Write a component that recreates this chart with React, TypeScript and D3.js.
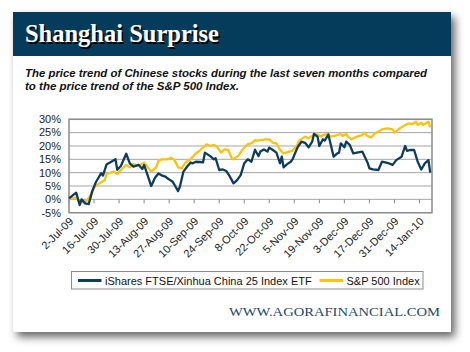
import * as d3 from "d3";

// trading day offsets from 2-Jul-09 and % change
const startDate = new Date(2009, 6, 2);
const endDate = new Date(2010, 0, 21);

const chinaDays = [0, 4, 6, 7, 9, 11, 13, 15, 18, 19, 21, 26, 27, 29, 32, 34, 36, 39, 41, 42, 46, 48, 50, 52, 54, 55, 58, 61, 62, 64, 66, 68, 69, 71, 75, 76, 79, 81, 82, 84, 86, 88, 90, 92, 94, 96, 98, 100, 102, 104, 106, 107, 109, 111, 112, 114, 116, 117, 118, 119, 120, 122, 124, 125, 127, 128, 130, 132, 134, 136, 137, 139, 140, 142, 143, 145, 146, 148, 150, 151, 152, 154, 155, 157, 159, 161, 164, 167, 168, 170, 173, 175, 178, 181, 183, 186, 188, 189, 191, 193, 195, 197, 199, 201, 202];
const chinaValues = [0.4, 2.5, -2.1, 0, -1.5, -1.8, 3.0, 6.4, 9.8, 8.9, 13.1, 15, 11.1, 12.5, 17.1, 13.5, 12.3, 12.9, 11.4, 12.9, 5, 8, 9.7, 8.9, 8.5, 7.9, 6.6, 3.1, 4.7, 10.4, 12.2, 13.8, 13.5, 14.1, 13.9, 17.5, 16.2, 15, 15.4, 11, 11.2, 10.6, 8.5, 6, 7.2, 9.1, 13.5, 15, 14.1, 18.6, 16.2, 17.9, 18.7, 17.9, 19.4, 18.5, 17.5, 15.5, 13.5, 16, 12, 13.2, 14.1, 15, 18.2, 19.7, 21.6, 21.2, 19.5, 21.6, 24.5, 23.5, 20, 22.5, 22, 24.3, 21.6, 16, 17.2, 17.5, 21, 19.5, 21.6, 20.4, 17.2, 17.5, 17.9, 13.7, 11.6, 11.2, 11, 14.1, 13.7, 12.9, 14.7, 16, 20, 18.2, 18.5, 18.5, 14.1, 11.2, 13.5, 14.7, 10];

const spxDays = [0, 4, 6, 8, 10, 12, 14, 17, 20, 21, 25, 27, 29, 32, 34, 36, 39, 42, 46, 49, 50, 52, 55, 57, 59, 61, 63, 65, 68, 70, 71, 73, 75, 77, 79, 81, 83, 85, 87, 89, 91, 92, 95, 97, 100, 102, 104, 105, 107, 110, 112, 114, 116, 118, 120, 123, 125, 127, 129, 132, 134, 136, 138, 141, 142, 145, 146, 148, 152, 153, 155, 156, 158, 161, 164, 165, 167, 169, 171, 175, 178, 181, 182, 184, 187, 190, 192, 194, 195, 197, 198, 201, 202];
const spxValues = [0.4, 0.6, -1.3, -0.9, -0.5, 1.6, 4.5, 6, 7.2, 9.5, 10.4, 9.5, 11, 12.9, 12, 13.2, 12.6, 13.7, 10.4, 12.2, 14.5, 15, 15, 15.6, 14.7, 12, 11.6, 13.7, 15, 16.6, 17.2, 18.2, 19.5, 20.6, 20, 20.4, 19.5, 17.5, 18.7, 18.5, 15.4, 15, 16.6, 18.7, 20.7, 21, 22.2, 22, 22.2, 22.5, 22.5, 21.2, 21, 18.5, 17.2, 17.9, 18.2, 19.7, 22.2, 23.5, 22.9, 23.7, 24.7, 23.5, 24.1, 24.5, 23.5, 23.7, 24.5, 23.7, 24.5, 23.5, 22.5, 23.5, 24.1, 25, 23.7, 23.2, 24.7, 26.2, 26.6, 26.2, 25, 26.2, 27.5, 28.5, 28.2, 29.1, 27.9, 28.7, 27.9, 29.1, 27];

const yTicks = [-5, 0, 5, 10, 15, 20, 25, 30];
const seriesNames = ["iShares FTSE/Xinhua China 25 Index ETF", "S&P 500 Index"];
const seriesColors = ["#0d3d5c", "#ffc20e"];

const W = 470;
const H = 352;
const plot = { left: 69, right: 432, top: 119.3, bottom: 212.7 };

export default function App() {
  const x = d3.scaleTime().domain([startDate, endDate]).range([plot.left, plot.right]);
  const y = d3.scaleLinear().domain([-5, 30]).range([plot.bottom, plot.top]);
  const xTicks = d3.range(0, 15).map((i) => d3.timeDay.offset(startDate, 14 * i));
  const fmt = d3.timeFormat("%-d-%b-%y");

  const line = d3
    .line<[number, number]>()
    .x((d) => x(d3.timeDay.offset(startDate, d[0])))
    .y((d) => y(d[1]));

  const china = line(chinaDays.map((d, i) => [d, chinaValues[i]]));
  const spx = line(spxDays.map((d, i) => [d, spxValues[i]]));

  const sans = "'Liberation Sans', Arial, sans-serif";

  return (
    <svg
      width={W}
      height={H}
      style={{ position: "absolute", left: 0, top: 0, background: "#fff" }}
    >
      <defs>
        <filter id="shadow" x="-10%" y="-10%" width="125%" height="125%">
          <feDropShadow dx="4" dy="5" stdDeviation="4" floodColor="#000" floodOpacity="0.6" />
        </filter>
      </defs>

      {/* card */}
      <rect x={13} y={12} width={438} height={320} fill="#fff" filter="url(#shadow)" />
      <rect x={13} y={12} width={438} height={44} fill="#053c5c" />

      <g fontFamily="'Liberation Serif', 'Times New Roman', serif" fontWeight="bold" fontSize={25}>
        <text x={26.5} y={43.5} fill="#000" textLength={194} lengthAdjust="spacingAndGlyphs">
          Shanghai Surprise
        </text>
        <text x={25} y={42} fill="#fff" textLength={194} lengthAdjust="spacingAndGlyphs">
          Shanghai Surprise
        </text>
      </g>

      <g fontFamily={sans} fontWeight="bold" fontStyle="italic" fontSize={10.8} fill="#111">
        <text x={25} y={76.5} textLength={402} lengthAdjust="spacingAndGlyphs">
          The price trend of Chinese stocks during the last seven months compared
        </text>
        <text x={25} y={90} textLength={214} lengthAdjust="spacingAndGlyphs">
          to the price trend of the S&amp;P 500 Index.
        </text>
      </g>

      {/* grid */}
      {yTicks.map((t) => (
        <line key={t} x1={plot.left} x2={plot.right} y1={y(t)} y2={y(t)} stroke="#a6a6a6" strokeWidth={1} />
      ))}
      <rect
        x={plot.left}
        y={plot.top}
        width={plot.right - plot.left}
        height={plot.bottom - plot.top}
        fill="none"
        stroke="#8c8c8c"
        strokeWidth={1.5}
      />
      {xTicks.map((t, i) => (
        <line key={i} x1={x(t)} x2={x(t)} y1={y(0)} y2={y(0) + 4} stroke="#8c8c8c" strokeWidth={1} />
      ))}

      {/* y labels */}
      <g fontFamily={sans} fontSize={11} fill="#222" textAnchor="end">
        {yTicks.map((t) => (
          <text key={t} x={61} y={y(t)} dy="0.35em">
            {t}%
          </text>
        ))}
      </g>

      {/* x labels */}
      <g fontFamily={sans} fontSize={11} fill="#222" textAnchor="end">
        {xTicks.map((t, i) => (
          <text key={i} transform={`translate(${x(t) + 5},${222}) rotate(-45)`}>
            {fmt(t)}
          </text>
        ))}
      </g>

      {/* series */}
      <path d={spx ?? ""} fill="none" stroke={seriesColors[1]} strokeWidth={2.3} strokeLinejoin="round" />
      <path d={china ?? ""} fill="none" stroke={seriesColors[0]} strokeWidth={2.3} strokeLinejoin="round" />

      {/* legend */}
      <rect x={71.5} y={271.5} width={351.5} height={17.5} fill="#fff" stroke="#8c8c8c" strokeWidth={1} />
      <g fontFamily={sans} fontSize={11} fill="#111">
        <line x1={78} x2={101.5} y1={280.5} y2={280.5} stroke={seriesColors[0]} strokeWidth={3} />
        <text x={105} y={284.5}>{seriesNames[0]}</text>
        <line x1={319.5} x2={343} y1={280.5} y2={280.5} stroke={seriesColors[1]} strokeWidth={3} />
        <text x={346.5} y={284.5}>{seriesNames[1]}</text>
      </g>

      <text
        x={229}
        y={316}
        fontFamily="'Liberation Serif', 'Times New Roman', serif"
        fontSize={13}
        fill="#1d4a6b"
        textLength={211}
        lengthAdjust="spacingAndGlyphs"
      >
        WWW.AGORAFINANCIAL.COM
      </text>
    </svg>
  );
}
